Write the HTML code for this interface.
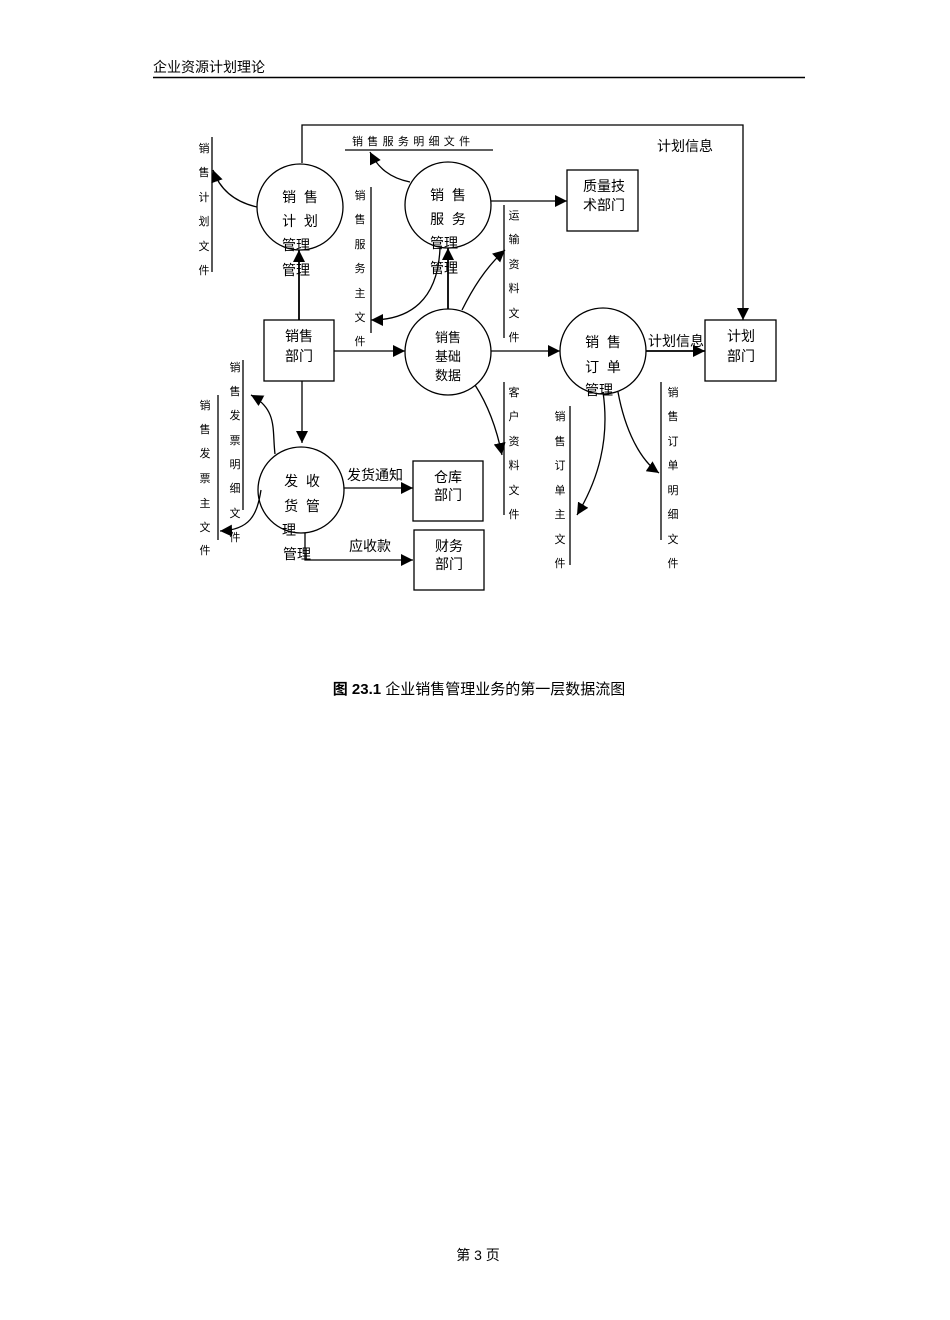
<!DOCTYPE html>
<html><head><meta charset="utf-8">
<style>
html,body{margin:0;padding:0;background:#fff;}
svg{display:block;}
text{font-family:"Liberation Sans","Noto Sans CJK SC",sans-serif;fill:#000;white-space:pre;}
</style></head><body>
<svg width="950" height="1320" viewBox="0 0 950 1320" xmlns="http://www.w3.org/2000/svg">
<defs>
<marker id="b" viewBox="0 0 10 10" refX="10" refY="5" markerWidth="12" markerHeight="12" orient="auto" markerUnits="userSpaceOnUse"><path d="M0,0 L10,5 L0,10 z" fill="#000"/></marker>
</defs>
<text x="153" y="72" font-size="14">企业资源计划理论</text>
<line x1="153" y1="77.5" x2="805" y2="77.5" stroke="#000" stroke-width="1.5"/>

<g fill="none" stroke="#000" stroke-width="1.3">
<circle cx="300" cy="207" r="43"/>
<circle cx="448" cy="205" r="43"/>
<circle cx="448" cy="352" r="43"/>
<circle cx="603" cy="351" r="43"/>
<circle cx="301" cy="490" r="43"/>
<rect x="264" y="320" width="70" height="61"/>
<rect x="567" y="170" width="71" height="61"/>
<rect x="705" y="320" width="71" height="61"/>
<rect x="413" y="461" width="70" height="60"/>
<rect x="414" y="530" width="70" height="60"/>
<line x1="212" y1="137" x2="212" y2="272"/>
<line x1="345" y1="150" x2="493" y2="150"/>
<line x1="371" y1="187" x2="371" y2="333"/>
<line x1="504" y1="205" x2="504" y2="338"/>
<line x1="504" y1="382" x2="504" y2="515"/>
<line x1="570" y1="406" x2="570" y2="565"/>
<line x1="661" y1="382" x2="661" y2="540"/>
<line x1="243" y1="360" x2="243" y2="510"/>
<line x1="218" y1="395" x2="218" y2="540"/>
<polyline points="302,163 302,125 743,125 743,320" marker-end="url(#b)"/>
<line x1="491" y1="201" x2="567" y2="201" marker-end="url(#b)"/>
<line x1="299" y1="320" x2="299" y2="250" marker-end="url(#b)" stroke-width="1.8"/>
<line x1="448" y1="309" x2="448" y2="248" marker-end="url(#b)" stroke-width="1.8"/>
<line x1="334" y1="351" x2="405" y2="351" marker-end="url(#b)"/>
<line x1="491" y1="351" x2="560" y2="351" marker-end="url(#b)"/>
<line x1="646" y1="351" x2="705" y2="351" marker-end="url(#b)" stroke-width="1.8"/>
<line x1="302" y1="381" x2="302" y2="443" marker-end="url(#b)"/>
<line x1="344" y1="488" x2="413" y2="488" marker-end="url(#b)"/>
<polyline points="305,533 305,560 413,560" marker-end="url(#b)"/>
<path d="M257,207 C235,202 220,190 213,170" marker-end="url(#b)"/>
<path d="M410,182 C390,178 378,168 370,152" marker-end="url(#b)"/>
<path d="M440,248 C438,300 410,320 371,320" marker-end="url(#b)"/>
<path d="M462,310 C472,290 485,268 505,250" marker-end="url(#b)"/>
<path d="M475,385 C488,405 497,430 502,455" marker-end="url(#b)"/>
<path d="M603,392 C610,440 598,480 577,515" marker-end="url(#b)"/>
<path d="M618,392 C625,430 640,460 659,473" marker-end="url(#b)"/>
<path d="M275,454 C272,430 278,410 251,395" marker-end="url(#b)"/>
<path d="M261,490 C257,515 250,530 220,531" marker-end="url(#b)"/>
</g>

<g font-size="14" text-anchor="middle">
<text x="300" y="202">销  售</text>
<text x="300" y="226">计  划</text>
<text x="296" y="250">管理</text>
<text x="296" y="275">管理</text>
<text x="448" y="200">销  售</text>
<text x="448" y="224">服  务</text>
<text x="444" y="248">管理</text>
<text x="444" y="273">管理</text>
<text x="448" y="342" font-size="13">销售</text>
<text x="448" y="361" font-size="13">基础</text>
<text x="448" y="380" font-size="13">数据</text>
<text x="603" y="347">销  售</text>
<text x="603" y="372">订  单</text>
<text x="599" y="395">管理</text>
<text x="302" y="486">发  收</text>
<text x="302" y="511">货  管</text>
<text x="289" y="535">理</text>
<text x="297" y="559">管理</text>
<text x="299" y="341">销售</text>
<text x="299" y="361">部门</text>
<text x="604" y="191">质量技</text>
<text x="604" y="210">术部门</text>
<text x="741" y="341">计划</text>
<text x="741" y="361">部门</text>
<text x="448" y="482">仓库</text>
<text x="448" y="500">部门</text>
<text x="449" y="551">财务</text>
<text x="449" y="569">部门</text>
</g>
<g font-size="14">
<text x="657" y="151">计划信息</text>
<text x="648" y="346">计划信息</text>
<text x="347" y="480">发货通知</text>
<text x="349" y="551">应收款</text>
<text x="352" y="145" font-size="11" letter-spacing="4.3">销售服务明细文件</text>
</g>
<g font-size="11" text-anchor="middle">
<text x="204" y="152">销</text><text x="204" y="176">售</text><text x="204" y="201">计</text><text x="204" y="225">划</text><text x="204" y="250">文</text><text x="204" y="274">件</text>
<text x="360" y="199">销</text><text x="360" y="223">售</text><text x="360" y="248">服</text><text x="360" y="272">务</text><text x="360" y="297">主</text><text x="360" y="321">文</text><text x="360" y="345">件</text>
<text x="514" y="219">运</text><text x="514" y="243">输</text><text x="514" y="268">资</text><text x="514" y="292">料</text><text x="514" y="317">文</text><text x="514" y="341">件</text>
<text x="514" y="396">客</text><text x="514" y="420">户</text><text x="514" y="445">资</text><text x="514" y="469">料</text><text x="514" y="494">文</text><text x="514" y="518">件</text>
<text x="560" y="420">销</text><text x="560" y="445">售</text><text x="560" y="469">订</text><text x="560" y="494">单</text><text x="560" y="518">主</text><text x="560" y="543">文</text><text x="560" y="567">件</text>
<text x="673" y="396">销</text><text x="673" y="420">售</text><text x="673" y="445">订</text><text x="673" y="469">单</text><text x="673" y="494">明</text><text x="673" y="518">细</text><text x="673" y="543">文</text><text x="673" y="567">件</text>
<text x="235" y="371">销</text><text x="235" y="395">售</text><text x="235" y="419">发</text><text x="235" y="444">票</text><text x="235" y="468">明</text><text x="235" y="492">细</text><text x="235" y="517">文</text><text x="235" y="541">件</text>
<text x="205" y="409">销</text><text x="205" y="433">售</text><text x="205" y="457">发</text><text x="205" y="482">票</text><text x="205" y="507">主</text><text x="205" y="531">文</text><text x="205" y="554">件</text>
</g>
<text x="479" y="694" font-size="15" text-anchor="middle" font-weight="bold">图 23.1 <tspan font-weight="normal">企业销售管理业务的第一层数据流图</tspan></text>
<text x="478" y="1260" font-size="14" text-anchor="middle">第 3 页</text>
</svg>
</body></html>
